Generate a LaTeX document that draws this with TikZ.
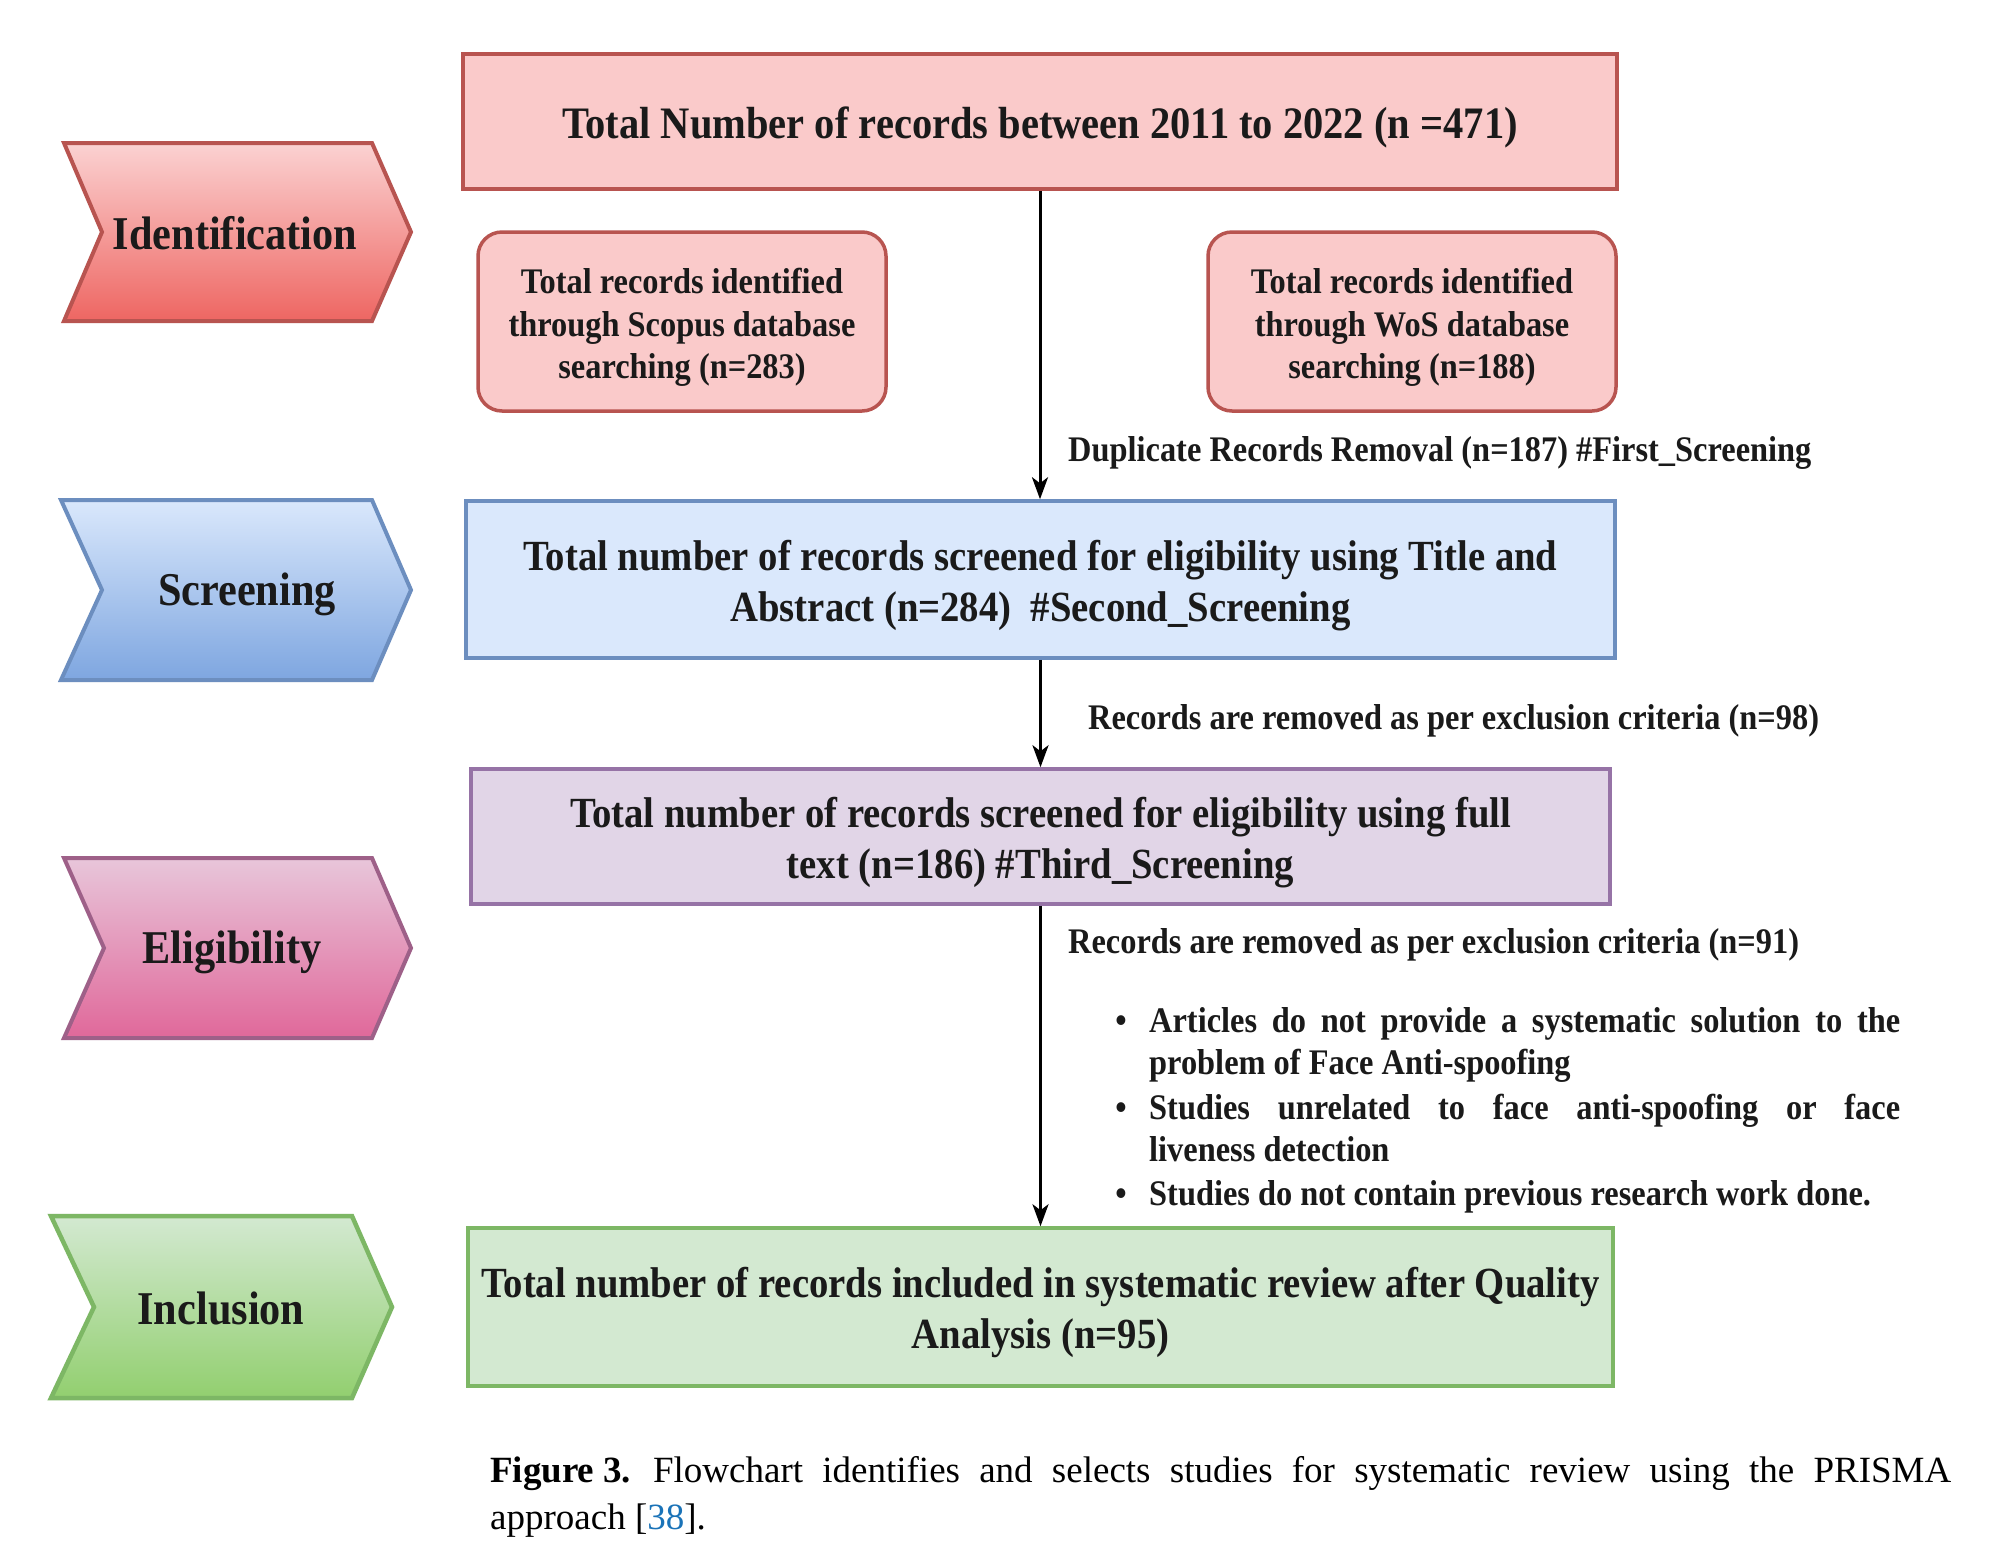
\documentclass[tikz,border=0pt]{standalone}
\usepackage{fontspec}
\setmainfont{Liberation Serif}
\newfontfamily\tnr{Liberation Serif}[FakeStretch=0.9]
\usetikzlibrary{arrows.meta,shadings}
\definecolor{redS}{HTML}{B85450}
\definecolor{redF}{HTML}{FACACA}
\definecolor{redG}{HTML}{EE6662}
\definecolor{bluS}{HTML}{6C8EBF}
\definecolor{bluF}{HTML}{DAE8FC}
\definecolor{bluG}{HTML}{7EA6E0}
\definecolor{purS}{HTML}{9673A6}
\definecolor{purF}{HTML}{E1D5E7}
\definecolor{pnkS}{HTML}{9E6088}
\definecolor{pnkF}{HTML}{E8C6DA}
\definecolor{pnkG}{HTML}{E0689A}
\definecolor{grnS}{HTML}{7DB765}
\definecolor{grnF}{HTML}{D3E9D1}
\definecolor{grnG}{HTML}{92CF6F}
\definecolor{txt}{HTML}{1A1A1A}
\definecolor{linkblue}{HTML}{1A73B8}
\begin{document}
\begin{tikzpicture}[x=1pt,y=-1pt,
  boxtxt/.style={text=txt,font=\tnr\bfseries\fontsize{43}{51}\selectfont,align=center,inner sep=0pt},
  flowbox/.style={draw,line width=3.5pt,inner sep=0pt},
  roundbox/.style={flowbox,rounded corners=24pt,fill=redF,draw=redS,minimum width=408pt,minimum height=179pt},
  smalltxt/.style={boxtxt,font=\tnr\bfseries\fontsize{36}{42.5}\selectfont},
  chevtxt/.style={text=txt,font=\tnr\bfseries\fontsize{47}{52}\selectfont},
  lbl/.style={text=txt,font=\tnr\bfseries\fontsize{36}{42}\selectfont,anchor=mid west,inner sep=0pt},
  arr/.style={line width=3pt,draw=black,-{Stealth[length=22pt,width=16pt,inset=6pt]}},
  capt/.style={text=black,font=\fontsize{37}{48}\selectfont,anchor=mid west,inner sep=0pt}
]
\useasboundingbox (0,0) rectangle (2000,1567);
\fill[white] (0,0) rectangle (2000,1567);

% chevrons
\path[draw=redS,line width=4pt,top color=redF!85!white,bottom color=redG]
  (64,143) -- (372,143) -- (411,232) -- (372,321) -- (64,321) -- (102,232) -- cycle;
\path[draw=bluS,line width=4pt,top color=bluF,bottom color=bluG]
  (61,500) -- (372,500) -- (411,590) -- (372,680) -- (61,680) -- (102,590) -- cycle;
\path[draw=pnkS,line width=4pt,top color=pnkF,bottom color=pnkG]
  (64,858) -- (372,858) -- (411,948) -- (372,1038) -- (64,1038) -- (104,948) -- cycle;
\path[draw=grnS,line width=4.5pt,top color=grnF,bottom color=grnG]
  (51,1216) -- (352,1216) -- (392,1307) -- (352,1398) -- (51,1398) -- (94,1307) -- cycle;

\node[chevtxt] (cid) at (235,233) {Identification};
\node[chevtxt] (csc) at (247,594) {Screening};
\node[chevtxt] (cel) at (232,952) {Eligibility};
\node[chevtxt] (cin) at (221,1308) {Inclusion};

% boxes
\node[flowbox,fill=redF,draw=redS,minimum width=1154pt,minimum height=135pt] (top) at (1040,121.5) {};
\node[boxtxt,font=\tnr\bfseries\fontsize{45}{51}\selectfont] (toptxt) at ([yshift=-6pt]top.center)
  {Total Number of records between 2011 to 2022 (n =471)};
\node[roundbox] (scopus) at (682,321.5) {};
\node[smalltxt] (scopustxt) at ([yshift=-6pt]scopus.center)
  {Total records identified\\through Scopus database\\searching (n=283)};
\node[roundbox] (wos) at (1412,321.5) {};
\node[smalltxt] (wostxt) at ([yshift=-6pt]wos.center)
  {Total records identified\\through WoS database\\searching (n=188)};
\node[flowbox,fill=bluF,draw=bluS,minimum width=1149pt,minimum height=157pt] (blue) at (1040.5,579.5) {};
\node[boxtxt] (bluetxt) at ([yshift=-6pt]blue.center)
  {Total number of records screened for eligibility using Title and\\Abstract (n=284)\ \ \#Second\_Screening};
\node[flowbox,fill=purF,draw=purS,minimum width=1139pt,minimum height=135pt] (purple) at (1040.5,836.5) {};
\node[boxtxt] (purpletxt) at ([yshift=-6pt]purple.center)
  {Total number of records screened for eligibility using full\\text (n=186) \#Third\_Screening};
\node[flowbox,fill=grnF,draw=grnS,minimum width=1145pt,minimum height=158pt] (green) at (1040.5,1307) {};
\node[boxtxt] (greentxt) at ([yshift=-5pt]green.center)
  {Total number of records included in systematic review after Quality\\Analysis (n=95)};

% arrows
\draw[arr] (top.south) -- (top.south |- blue.north);
\draw[arr] (blue.south) -- (blue.south |- purple.north);
\draw[arr] (purple.south) -- (purple.south |- green.north);

% labels
\node[lbl] (l187) at (1068,459) {Duplicate Records Removal (n=187) \#First\_Screening};
\node[lbl] (l98) at (1088,727) {Records are removed as per exclusion criteria (n=98)};
\node[lbl] (l91) at (1068,951) {Records are removed as per exclusion criteria (n=91)};

\node[lbl,anchor=mid] (b1) at (1121,1030) {\textbullet};
\node[lbl,anchor=mid] (b2) at (1121,1117) {\textbullet};
\node[lbl,anchor=mid] (b3) at (1121,1203) {\textbullet};
\node[lbl] (t1a) at (1149,1030) {\makebox[751pt][s]{Articles do not provide a systematic solution to the}};
\node[lbl] (t1b) at (1149,1072) {problem of Face Anti-spoofing};
\node[lbl] (t2a) at (1149,1117) {\makebox[751pt][s]{Studies unrelated to face anti-spoofing or face}};
\node[lbl] (t2b) at (1149,1159) {liveness detection};
\node[lbl] (t3a) at (1149,1203) {Studies do not contain previous research work done.};

% caption
\node[capt] (cap1) at (490,1480) {\makebox[1461pt][s]{\textbf{Figure\hspace{9pt}3.}\hspace{22pt}Flowchart identifies and selects studies for systematic review using the PRISMA}};
\node[capt] (cap2) at (490,1527) {approach [\textcolor{linkblue}{38}].};
\end{tikzpicture}
\end{document}
